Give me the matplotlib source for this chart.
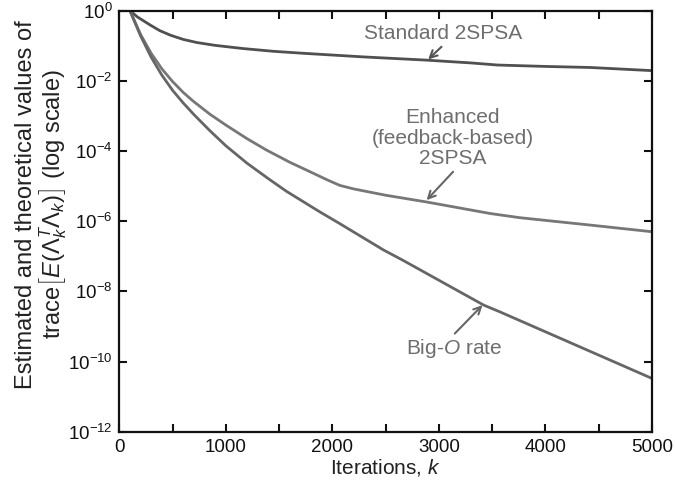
import numpy as np
import matplotlib
matplotlib.use("Agg")
import matplotlib.pyplot as plt

plt.rcParams['font.family'] = ['Liberation Sans', 'DejaVu Sans']
plt.rcParams['mathtext.fontset'] = 'custom'
plt.rcParams['mathtext.rm'] = 'Liberation Sans'
plt.rcParams['mathtext.it'] = 'Liberation Sans:italic'
plt.rcParams['mathtext.bf'] = 'Liberation Sans:bold'
plt.rcParams['mathtext.default'] = 'it'

# Data (log10 of values)
k_standard = [100, 170, 290, 380, 480, 600, 730, 900, 1160, 1450, 1750, 2300, 2880, 3300, 3550, 4000, 4420, 5000]
log_standard = [0.0, -0.18, -0.41, -0.57, -0.70, -0.82, -0.91, -0.99, -1.08, -1.16, -1.22, -1.32, -1.41,
                -1.49, -1.55, -1.59, -1.62, -1.71]

k_enhanced = [100, 200, 300, 400, 500, 600, 690, 850, 1000, 1200, 1380, 1600, 1790, 1950, 2070, 2200,
              2500, 2880, 3480, 3760, 4420, 5000]
log_enhanced = [0.0, -0.68, -1.22, -1.66, -2.02, -2.33, -2.57, -2.95, -3.26, -3.65, -3.97, -4.32, -4.59,
                -4.82, -4.98, -5.08, -5.26, -5.45, -5.78, -5.90, -6.11, -6.30]

k_bigo = [100, 200, 300, 400, 500, 600, 700, 850, 1000, 1200, 1400, 1570, 1880, 2070, 2480, 2660,
          3420, 3570, 5000]
log_bigo = [0.0, -0.72, -1.33, -1.84, -2.27, -2.63, -2.96, -3.42, -3.85, -4.35, -4.79, -5.15, -5.73,
            -6.07, -6.82, -7.11, -8.39, -8.58, -10.48]

x_ticks = [0, 1000, 2000, 3000, 4000, 5000]
y_ticks = [1e0, 1e-2, 1e-4, 1e-6, 1e-8, 1e-10, 1e-12]
y_ticklabels = [r'$\mathregular{10^{0}}$', r'$\mathregular{10^{-2}}$', r'$\mathregular{10^{-4}}$',
                r'$\mathregular{10^{-6}}$', r'$\mathregular{10^{-8}}$', r'$\mathregular{10^{-10}}$',
                r'$\mathregular{10^{-12}}$']

fig = plt.figure(figsize=(6.75, 4.83), dpi=100)
ax = fig.add_axes([0.1767, 0.106, 0.7893, 0.872])

ax.plot(k_standard, 10.0 ** np.array(log_standard), color='#505050', lw=2.0)
ax.plot(k_enhanced, 10.0 ** np.array(log_enhanced), color='#777777', lw=2.0)
ax.plot(k_bigo, 10.0 ** np.array(log_bigo), color='#666666', lw=2.0)

ax.set_yscale('log')
ax.set_xlim(0, 5000)
ax.set_ylim(1e-12, 1e0)
xt = np.arange(0, 5001, 500)
ax.set_xticks(xt)
ax.set_xticklabels([str(v) if v in x_ticks else '' for v in xt])
ax.set_yticks(y_ticks)
ax.set_yticklabels(y_ticklabels)
ax.yaxis.set_minor_locator(matplotlib.ticker.NullLocator())
ax.tick_params(axis='both', which='major', direction='in', length=6, width=1.5,
               top=True, right=True, labelsize=13.5, pad=5, colors='#111111')
for s in ax.spines.values():
    s.set_linewidth(1.6)
    s.set_color('#111111')

ax.set_xlabel(r'Iterations, $k$', fontsize=15, labelpad=1, color='#222222')
ax.set_ylabel('Estimated and theoretical values of\n'
              r'trace$\left[E(\Lambda_k^T\Lambda_k)\right]$ (log scale)',
              fontsize=17, color='#222222', linespacing=1.0)
ax.yaxis.label.set_va('center')
ax.yaxis.set_label_coords(-0.145, 0.54)

tc = '#6e6e6e'
ap = dict(arrowstyle='->', lw=1.5, shrinkA=0, shrinkB=0, mutation_scale=13)
ax.text(3037, 10 ** -0.64, 'Standard 2SPSA', ha='center', va='center', fontsize=15, color=tc)
ax.annotate('', xy=(2899, 10 ** -1.39), xytext=(3024, 10 ** -1.03),
            arrowprops=dict(ap, color='#555555'))
ax.text(3130, 10 ** -3.63, 'Enhanced\n(feedback-based)\n2SPSA', ha='center', va='center',
        fontsize=15, color=tc, linespacing=1.1)
ax.annotate('', xy=(2884, 10 ** -5.40), xytext=(3133, 10 ** -4.59),
            arrowprops=dict(ap, color='#666666'))
ax.text(3140, 10 ** -9.62, r'Big-$O$ rate', ha='center', va='center', fontsize=15, color=tc)
ax.annotate('', xy=(3409, 10 ** -8.39), xytext=(3149, 10 ** -9.20),
            arrowprops=dict(ap, color='#666666'))

fig.savefig('out.png', dpi=100)
